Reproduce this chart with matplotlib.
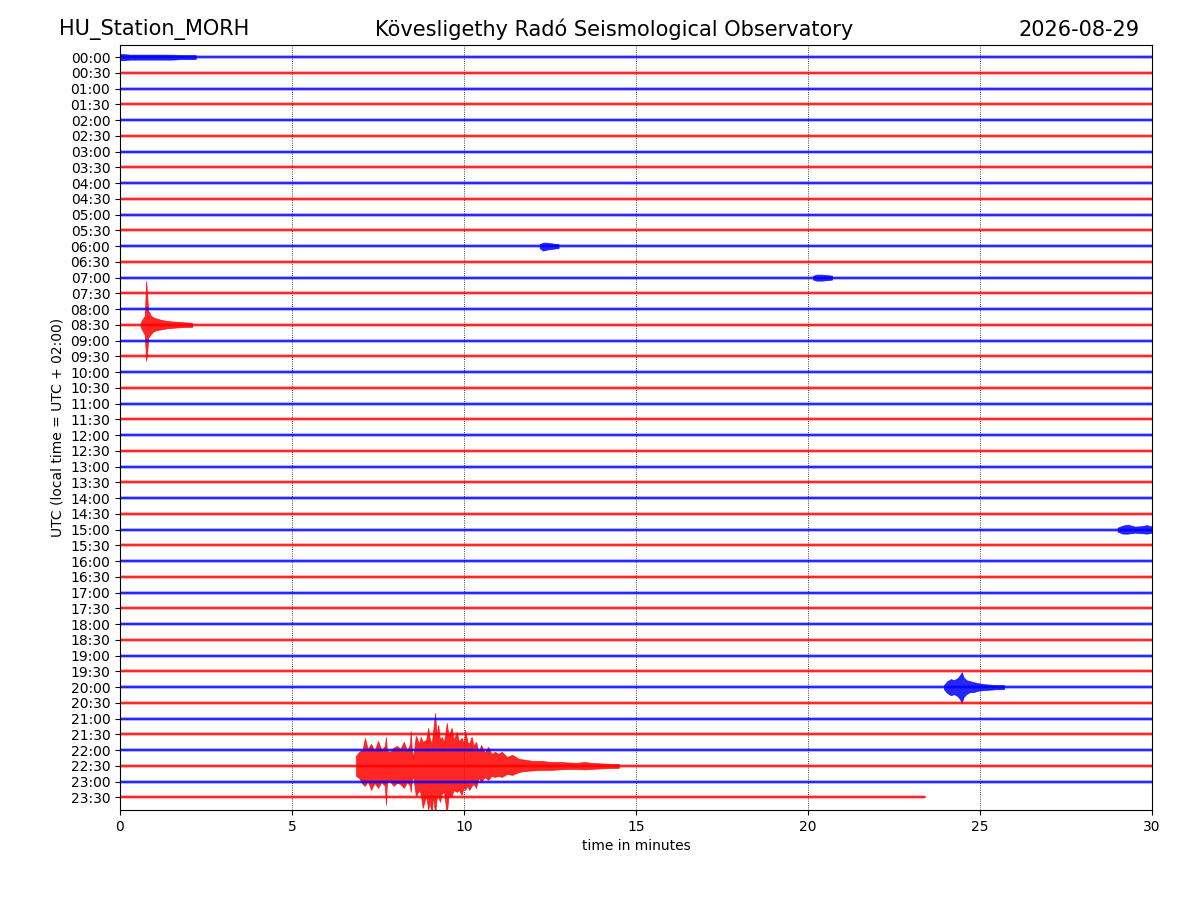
import numpy as np
import matplotlib
matplotlib.use("Agg")
import matplotlib.pyplot as plt

station = "HU_Station_MORH"
observatory = "Kövesligethy Radó Seismological Observatory"
day = "2026-08-29"

trace_labels = [f"{h:02d}:{m:02d}" for h in range(24) for m in (0, 30)]
trace_colors = ["blue", "red"]          # alternating per half hour
trace_end = [30.0] * 47 + [23.4]        # last window stops early (minutes)
noise_px = 2.0                          # background noise half-width, pixels
trace_spacing_px = 15.74                # pixel distance between traces

# event envelopes: (minutes, upward amplitude px, downward amplitude px)
ev_2230_t = [6.86, 6.95, 7.05, 7.12, 7.2, 7.3, 7.4, 7.5, 7.6, 7.7, 7.73, 7.76, 7.85, 7.95,
             8.05, 8.15, 8.25, 8.35, 8.43, 8.45, 8.48, 8.52, 8.6, 8.7, 8.74, 8.8, 8.9, 8.96,
             9.0, 9.06, 9.1, 9.16, 9.2, 9.25, 9.3, 9.35, 9.42, 9.5, 9.55, 9.64, 9.7, 9.79,
             9.85, 9.93, 10.0, 10.03, 10.1, 10.15, 10.22, 10.28, 10.35, 10.42, 10.5, 10.6,
             10.7, 10.8, 10.9, 11.0, 11.1, 11.25, 11.4, 11.6, 11.8, 12.0, 12.25, 12.5, 12.75,
             13.0, 13.3, 13.5, 13.7, 14.0, 14.3, 14.5]
ev_2230_up = [10, 14, 16, 28, 17, 22, 15, 25, 16, 20, 29, 15, 14, 18,
              20, 17, 24, 15, 22, 35, 18, 8, 30, 22, 29, 24, 26, 38,
              28, 22, 34, 53, 30, 41, 26, 29, 24, 43, 30, 38, 26, 34,
              24, 28, 22, 36, 24, 22, 29, 20, 24, 14, 21, 13,
              19, 12, 14, 12, 14, 9, 11, 7, 6, 5, 5, 4, 4,
              3.5, 3, 4, 3, 2.5, 2, 2]
ev_2230_dn = [10, 12, 18, 20, 15, 24, 17, 22, 16, 20, 39, 16, 15, 20,
              17, 18, 22, 16, 20, 26, 16, 9, 30, 24, 28, 42, 30, 44,
              36, 48, 30, 48, 34, 30, 36, 28, 26, 48, 30, 30, 24, 26,
              24, 29, 20, 24, 20, 24, 20, 18, 22, 12, 16, 11,
              14, 10, 11, 10, 11, 8, 9, 6, 5, 4.5, 4, 4, 3.5,
              3, 3, 3.5, 3, 2.5, 2, 2]

ev_0830_t = [0.60, 0.66, 0.72, 0.76, 0.79, 0.82, 0.86, 0.9, 0.95, 1.0, 1.1, 1.2, 1.35, 1.5, 1.7, 1.9, 2.1]
ev_0830_up = [2, 6, 9, 44, 30, 14, 12, 9, 8, 7, 6, 5, 4, 3.5, 3, 2.5, 2]
ev_0830_dn = [2, 6, 10, 36, 28, 13, 11, 9, 7, 6, 5, 4.5, 3.5, 3, 2.5, 2, 2]

ev_2000_t = [23.95, 24.05, 24.15, 24.25, 24.35, 24.42, 24.47, 24.52, 24.6, 24.7, 24.8, 24.95, 25.1, 25.3, 25.5, 25.7]
ev_2000_up = [2, 6, 8, 7, 9, 12, 15, 10, 7, 6, 5, 4, 3, 2.5, 2, 2]
ev_2000_dn = [2, 6, 8, 7, 9, 12, 16, 10, 7, 5, 5, 3.5, 3, 2.5, 2, 2]

ev_0600_t = [12.2, 12.3, 12.4, 12.5, 12.6, 12.75]
ev_0600_up = [2, 3.5, 3.5, 3, 2.5, 2]
ev_0600_dn = [2, 4.5, 3.5, 3, 2.5, 2]

ev_0700_t = [20.15, 20.25, 20.4, 20.55, 20.7]
ev_0700_up = [2, 3, 3, 2.5, 2]
ev_0700_dn = [2, 3, 3, 2.5, 2]

ev_1500_t = [29.0, 29.15, 29.3, 29.5, 29.7, 29.85, 30.0]
ev_1500_up = [2, 4, 5, 3, 3.5, 4.5, 3]
ev_1500_dn = [2, 4, 4, 3, 3.5, 4, 3]

ev_0000_t = [0.0, 0.1, 0.3, 0.6, 1.0, 1.5, 1.8, 2.2]
ev_0000_up = [3, 3, 2.5, 2.5, 2.5, 2.5, 2, 2]
ev_0000_dn = [3, 3, 2.5, 2.5, 2.5, 2.5, 2, 2]

events = {
    0: (ev_0000_t, ev_0000_up, ev_0000_dn),
    12: (ev_0600_t, ev_0600_up, ev_0600_dn),
    14: (ev_0700_t, ev_0700_up, ev_0700_dn),
    17: (ev_0830_t, ev_0830_up, ev_0830_dn),
    30: (ev_1500_t, ev_1500_up, ev_1500_dn),
    40: (ev_2000_t, ev_2000_up, ev_2000_dn),
    45: (ev_2230_t, ev_2230_up, ev_2230_dn),
}

# --------- plot ---------
fig = plt.figure(figsize=(12, 9), dpi=100)
ax = fig.add_axes([0.1, 0.1, 0.86, 0.85])

n = len(trace_labels)
nz = noise_px / trace_spacing_px
for i in range(n):
    col = trace_colors[i % 2]
    end = trace_end[i]
    ax.fill_between([0, end], [i - nz, i - nz], [i + nz, i + nz], color=col, alpha=0.3, lw=0, zorder=2)
    ax.plot([0, end], [i, i], color=col, lw=1.1, zorder=2.5)
    if i in events:
        t, up, dn = events[i]
        up = np.asarray(up) / trace_spacing_px
        dn = np.asarray(dn) / trace_spacing_px
        ax.fill_between(t, i - up, i + dn, color=col, alpha=0.85, lw=0.5, edgecolor=col, zorder=1.8)

ax.set_xlim(0, 30)
ax.set_ylim(n - 1 + 0.8, -0.77)
ax.set_yticks(range(n))
ax.set_yticklabels(trace_labels)
ax.set_xticks(range(0, 31, 5))
ax.grid(True, axis="x", linestyle=":", color="black", lw=0.6)
ax.set_xlabel("time in minutes")
ax.set_ylabel("UTC (local time = UTC + 02:00)")

fig.text(0.049, 0.967, station, ha="left", va="center", fontsize=15)
fig.text(0.512, 0.967, observatory, ha="center", va="center", fontsize=15)
fig.text(0.95, 0.967, day, ha="right", va="center", fontsize=15)

fig.savefig("out.png", dpi=100)
